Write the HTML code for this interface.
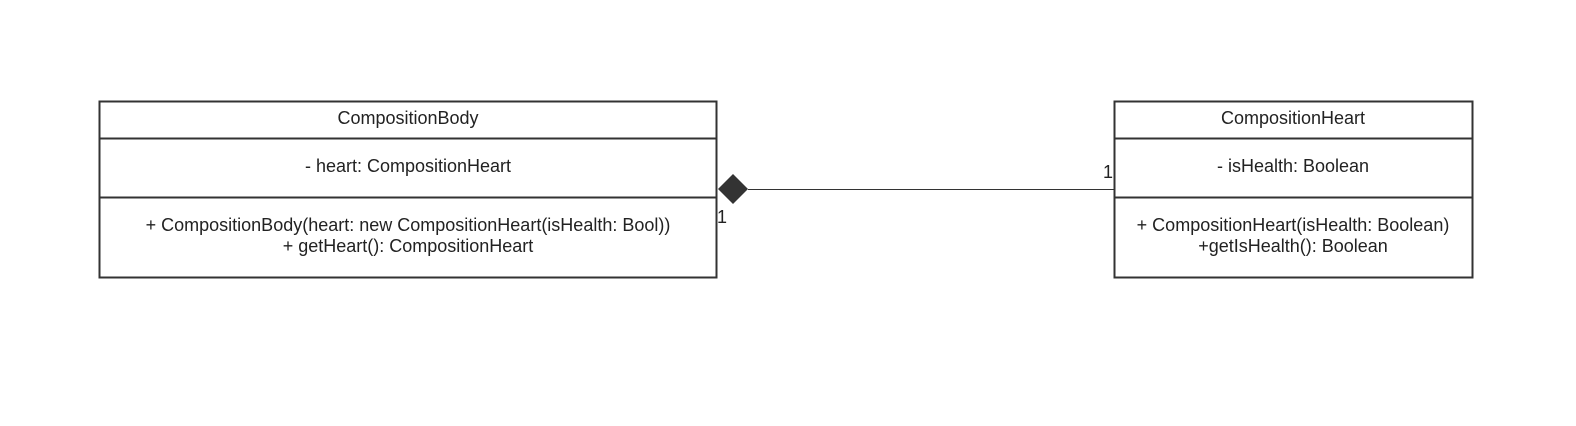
<!DOCTYPE html>
<html><head><style>body{margin:0;background:#fff}</style></head><body>
<svg width="1576" height="426" xmlns="http://www.w3.org/2000/svg" style="display:block">
<rect width="1576" height="426" fill="#fff"/>
<g fill="none" stroke="#333" stroke-width="2">
<rect x="99.5" y="101.5" width="617" height="176"/>
<line x1="99.5" y1="138.5" x2="716.5" y2="138.5"/>
<line x1="99.5" y1="197.5" x2="716.5" y2="197.5"/>
<rect x="1114.5" y="101.5" width="358" height="176"/>
<line x1="1114.5" y1="138.5" x2="1472.5" y2="138.5"/>
<line x1="1114.5" y1="197.5" x2="1472.5" y2="197.5"/>
</g>
<line x1="748" y1="189.5" x2="1114" y2="189.5" stroke="#333" stroke-width="1"/>
<polygon points="718,189 733,174 748,189 733,204" fill="#333"/>
<g font-family="Liberation Sans, sans-serif" font-size="18" fill="#222" text-anchor="middle">
<text x="408" y="124">CompositionBody</text>
<text x="408" y="172">- heart: CompositionHeart</text>
<text x="408" y="231">+ CompositionBody(heart: new CompositionHeart(isHealth: Bool))</text>
<text x="408" y="252">+ getHeart(): CompositionHeart</text>
<text x="1293" y="124">CompositionHeart</text>
<text x="1293" y="172">- isHealth: Boolean</text>
<text x="1293" y="231">+ CompositionHeart(isHealth: Boolean)</text>
<text x="1293" y="252">+getIsHealth(): Boolean</text>
<text x="722" y="223">1</text>
<text x="1108" y="178">1</text>
</g>
</svg>
</body></html>
